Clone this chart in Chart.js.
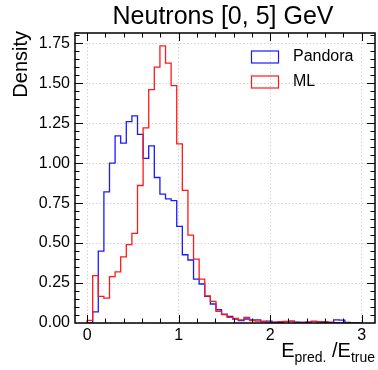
<!DOCTYPE html>
<html>
<head>
<meta charset="utf-8">
<script src="https://cdn.jsdelivr.net/npm/chart.js@4/dist/chart.umd.min.js"></script>
<style>
  html, body { margin: 0; padding: 0; background: #fff; }
  #chart { display: block; }
</style>
</head>
<body>
<canvas id="chart" width="378" height="370"></canvas>
<script>
// histogram bins: 49 equal bins between 0 and 3
const binLo = 0;
const binHi = 3;
const nBins = 49;

// bin contents (density)
const pandora = [
    0.0, 0.07, 0.45, 0.82, 1.0, 1.17, 1.125, 1.26, 1.295, 1.18,
    1.03, 1.108, 0.91, 0.806, 0.777, 0.766, 0.604, 0.427, 0.394, 0.275,
    0.244, 0.166, 0.119, 0.083, 0.056, 0.041, 0.025, 0.015, 0.025, 0.02,
    0.02, 0.008, 0.012, 0.005, 0.003, 0.008, 0.012, 0.005, 0.003, 0.006,
    0.01, 0.005, 0.003, 0.004, 0.02, 0.018, 0.003, 0.002, 0.0
];
const ml = [
    0.016, 0.296, 0.166, 0.156, 0.29, 0.32, 0.414, 0.49, 0.56, 0.86,
    1.22, 1.46, 1.6, 1.733, 1.625, 1.485, 1.12, 0.83, 0.55, 0.4,
    0.275, 0.17, 0.135, 0.073, 0.052, 0.035, 0.028, 0.02, 0.035, 0.015,
    0.012, 0.012, 0.005, 0.003, 0.008, 0.01, 0.01, 0.004, 0.003, 0.006,
    0.01, 0.008, 0.008, 0.003, 0.002, 0.0, 0.0, 0.0, 0.0
];

const xTicks = [0, 1, 2, 3];
const yTicks = [0, 0.25, 0.5, 0.75, 1.0, 1.25, 1.5, 1.75];
const seriesNames = ['Pandora', 'ML'];
const seriesColors = ['#1a1aff', '#ff1a1a'];

const binWidth = (binHi - binLo) / nBins;
const edges = [];
for (let i = 0; i <= nBins; i++) edges.push(binLo + i * binWidth);

// outline of a step histogram
function stepPoints(vals) {
    const pts = [{ x: edges[0], y: 0 }];
    vals.forEach((v, i) => pts.push({ x: edges[i], y: v }));
    pts.push({ x: edges[nBins], y: 0 });
    return pts;
}

const FONT = "'Liberation Sans', Arial, sans-serif";

// frame, inward ticks, titles and legend (mplhep look)
const decorations = {
    id: 'decorations',
    afterDraw(chart) {
        const { ctx, chartArea: a, scales } = chart;
        const xs = scales.x, ys = scales.y;
        ctx.save();
        ctx.strokeStyle = '#000';
        ctx.lineWidth = 1;

        // ticks
        ctx.beginPath();
        for (let v = -0.2; v <= 3.2 + 1e-9; v += 0.2) {
            const px = Math.round(xs.getPixelForValue(v)) + 0.5;
            if (px < a.left || px > a.right) continue;
            const major = Math.abs(v - Math.round(v)) < 1e-6;
            const len = major ? 8 : 4.5;
            ctx.moveTo(px, a.bottom); ctx.lineTo(px, a.bottom - len);
            ctx.moveTo(px, a.top); ctx.lineTo(px, a.top + len);
        }
        for (let k = 0; k <= 40; k++) {
            const v = k * 0.05;
            const py = Math.round(ys.getPixelForValue(v)) + 0.5;
            if (py < a.top || py > a.bottom) continue;
            const major = k % 5 === 0;
            const len = major ? 8 : 4.5;
            ctx.moveTo(a.left, py); ctx.lineTo(a.left + len, py);
            ctx.moveTo(a.right, py); ctx.lineTo(a.right - len, py);
        }
        ctx.stroke();

        // frame
        ctx.lineWidth = 1.5;
        ctx.strokeRect(a.left, a.top, a.right - a.left, a.bottom - a.top);

        ctx.fillStyle = '#000';
        // title
        ctx.font = '25px ' + FONT;
        ctx.textAlign = 'center';
        ctx.textBaseline = 'middle';
        ctx.fillText('Neutrons [0, 5] GeV', 223, 17);

        // y axis title, aligned to the top
        ctx.save();
        ctx.translate(21, a.top - 2);
        ctx.rotate(-Math.PI / 2);
        ctx.font = '20px ' + FONT;
        ctx.textAlign = 'right';
        ctx.textBaseline = 'middle';
        ctx.fillText('Density', 0, 0);
        ctx.restore();

        // x axis title E_pred./E_true, aligned to the right
        const big = '20px ' + FONT, small = '14px ' + FONT;
        const parts = [
            { t: 'E', f: big, dy: 0 },
            { t: 'pred.', f: small, dy: 5 },
            { t: ' /E', f: big, dy: 0 },
            { t: 'true', f: small, dy: 5 }
        ];
        let total = 0;
        parts.forEach(p => { ctx.font = p.f; p.w = ctx.measureText(p.t).width; total += p.w; });
        let x = a.right - total;
        const base = 357;
        ctx.textAlign = 'left';
        ctx.textBaseline = 'alphabetic';
        parts.forEach(p => { ctx.font = p.f; ctx.fillText(p.t, x, base + p.dy); x += p.w; });

        // legend
        ctx.font = '16px ' + FONT;
        ctx.textBaseline = 'middle';
        seriesNames.forEach((name, i) => {
            const cy = 57 + i * 25;
            ctx.strokeStyle = seriesColors[i];
            ctx.lineWidth = 1.2;
            ctx.strokeRect(251.5, cy - 6, 27, 12);
            ctx.fillStyle = '#000';
            ctx.fillText(name, 293, cy);
        });
        ctx.restore();
    }
};

new Chart(document.getElementById('chart'), {
    type: 'line',
    data: {
        datasets: [
            {
                label: seriesNames[0],
                data: stepPoints(pandora),
                borderColor: seriesColors[0],
                borderWidth: 1.3,
                stepped: true,
                pointRadius: 0,
                fill: false,
                order: 1
            },
            {
                label: seriesNames[1],
                data: stepPoints(ml),
                borderColor: seriesColors[1],
                borderWidth: 1.3,
                stepped: true,
                pointRadius: 0,
                fill: false,
                order: 0
            }
        ]
    },
    options: {
        responsive: false,
        animation: false,
        devicePixelRatio: 1,
        layout: { padding: { left: 0, right: 3, top: 33, bottom: 0 } },
        plugins: {
            legend: { display: false },
            tooltip: { enabled: false },
            title: { display: false }
        },
        scales: {
            x: {
                type: 'linear',
                min: -0.132,
                max: 3.146,
                afterFit(scale) { scale.height = 47; },
                afterBuildTicks(scale) { scale.ticks = xTicks.map(v => ({ value: v })); },
                ticks: {
                    font: { family: FONT, size: 16 },
                    color: '#000',
                    padding: 3,
                    maxRotation: 0,
                    callback: v => String(v)
                },
                grid: { color: '#d4d4d4', lineWidth: 1, drawTicks: false },
                border: { display: false, dash: [1.5, 2] }
            },
            y: {
                type: 'linear',
                min: 0,
                max: 1.814,
                afterFit(scale) { scale.width = 75; },
                afterBuildTicks(scale) { scale.ticks = yTicks.map(v => ({ value: v })); },
                ticks: {
                    font: { family: FONT, size: 16 },
                    color: '#000',
                    padding: 5,
                    callback: v => v.toFixed(2)
                },
                grid: { color: '#d4d4d4', lineWidth: 1, drawTicks: false },
                border: { display: false, dash: [1.5, 2] }
            }
        }
    },
    plugins: [decorations]
});
</script>
</body>
</html>
